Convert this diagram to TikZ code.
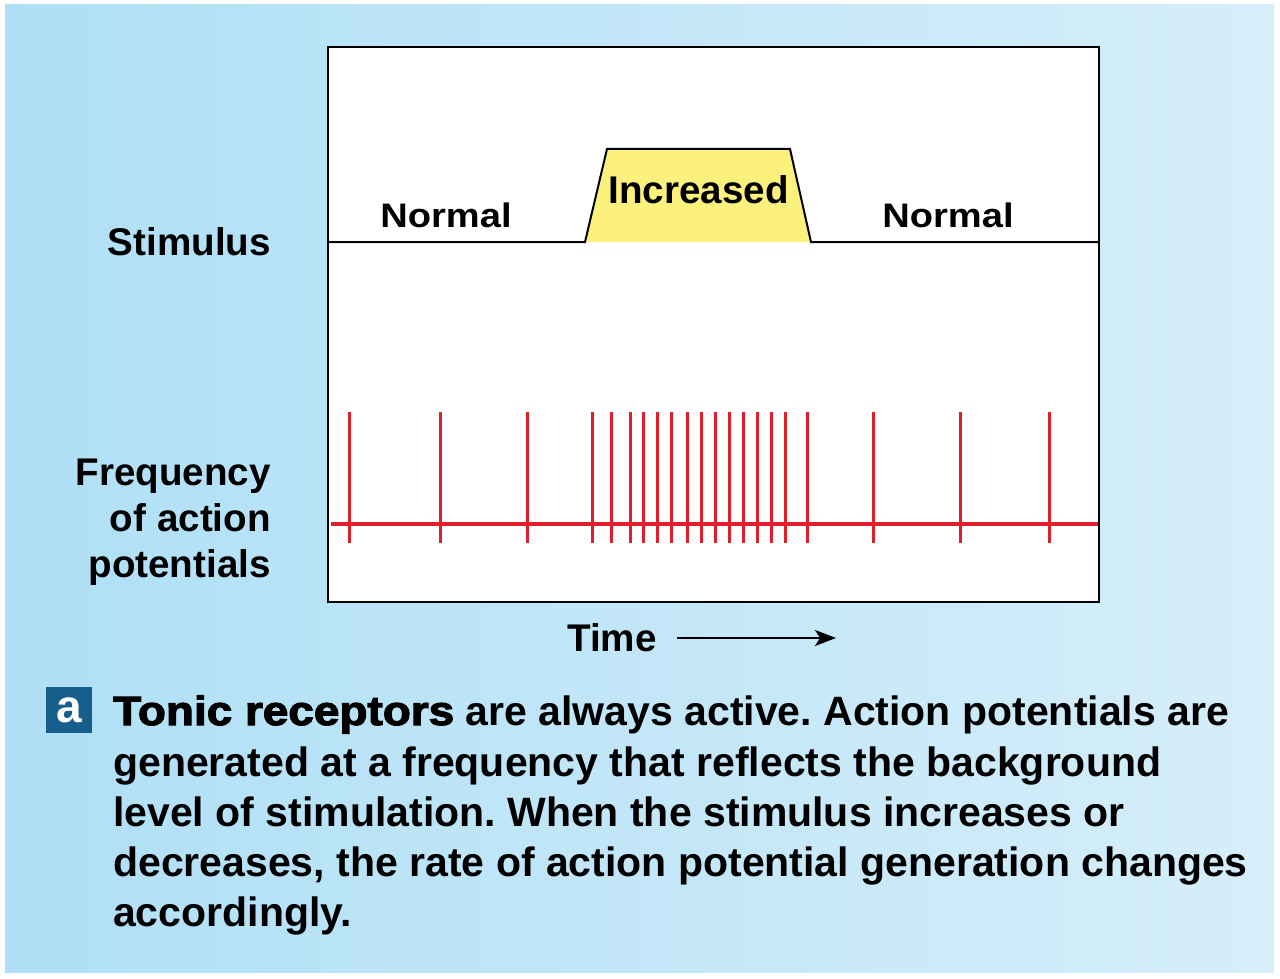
\documentclass[tikz,border=0pt]{standalone}
\usepackage{fontspec}
\setmainfont{Liberation Sans}
\newfontface\heavyfont{Liberation Sans Bold}[FakeBold=2.6]
\usetikzlibrary{arrows.meta}
\definecolor{bgL}{RGB}{175,223,246}
\definecolor{bgR}{RGB}{214,238,250}
\definecolor{stimY}{RGB}{251,241,124}
\definecolor{apRed}{RGB}{226,30,42}
\definecolor{tagBlue}{RGB}{22,94,140}
\frenchspacing
\begin{document}
\begin{tikzpicture}[x=1pt,y=-1pt,
  lbl/.style={inner sep=0pt, font=\fontsize{38.6}{46}\selectfont\bfseries},
  nrm/.style={inner sep=0pt, anchor=base, font=\fontsize{34}{40}\selectfont\bfseries},
  captxt/.style={inner sep=0pt, anchor=base west, font=\fontsize{41}{50}\selectfont\bfseries},
  spike/.style={apRed, line width=3pt},
  frameline/.style={line width=2pt}]
\useasboundingbox (0,0) rectangle (1280,979);
\fill[white] (0,0) rectangle (1280,979);
\shade[left color=bgL, right color=bgR] (5,5) rectangle (1274,972);
% plot frame
\draw[frameline, fill=white] (328,47) rectangle (1099,602);
% stimulus trace
\fill[stimY] (585,242) -- (607,149) -- (790,149) -- (811,242) -- cycle;
\draw[frameline, line join=miter] (329,242) -- (585,242) -- (607,149) -- (790,149) -- (811,242) -- (1098,242);
% action potentials
\draw[apRed, line width=4pt] (331,524) -- (1098,524);
\foreach \x in {349,440,527,592,611,630,643,657,671,687,701,715,729,743,757,771,785,807,873,960,1049}
  \draw[spike] (\x,412) -- (\x,543);
% labels
\node[lbl, anchor=base east] (stim) at (271,255) {Stimulus};
\node[nrm] (n1) at (446,227) {\scalebox{1.12}[1]{Normal}};
\node[lbl, anchor=base] (inc) at (698.5,203) {Increased};
\node[nrm] (n2) at (948,227) {\scalebox{1.12}[1]{Normal}};
\node[lbl, anchor=base east] (f1) at (271,485) {Frequency};
\node[lbl, anchor=base east] (f2) at (271,531) {of action};
\node[lbl, anchor=base east] (f3) at (271,577) {potentials};
\node[lbl, anchor=base] (time) at (612,651) {Time};
\coordinate (ta) at (677,638);
\coordinate (tb) at (836,638);
\draw[line width=2pt, -{Stealth[length=21pt,width=16pt,inset=5pt]}] (ta) -- (tb);
% caption
\node[fill=tagBlue, minimum size=46pt, inner sep=0pt, text=white,
      font=\fontsize{46}{46}\selectfont\bfseries] (tag) at (69,710) {a};
\node[captxt] (c1) at (113,725) {\scalebox{1.12}[1]{\heavyfont Tonic receptors} are always active. Action potentials are};
\node[captxt] (c2) at (113,776) {generated at a frequency that reflects the background};
\node[captxt] (c3) at (113,826) {level of stimulation. When the stimulus increases or};
\node[captxt] (c4) at (113,876) {decreases, the rate of action potential generation changes};
\node[captxt] (c5) at (113,926) {accordingly.};
\end{tikzpicture}
\end{document}
